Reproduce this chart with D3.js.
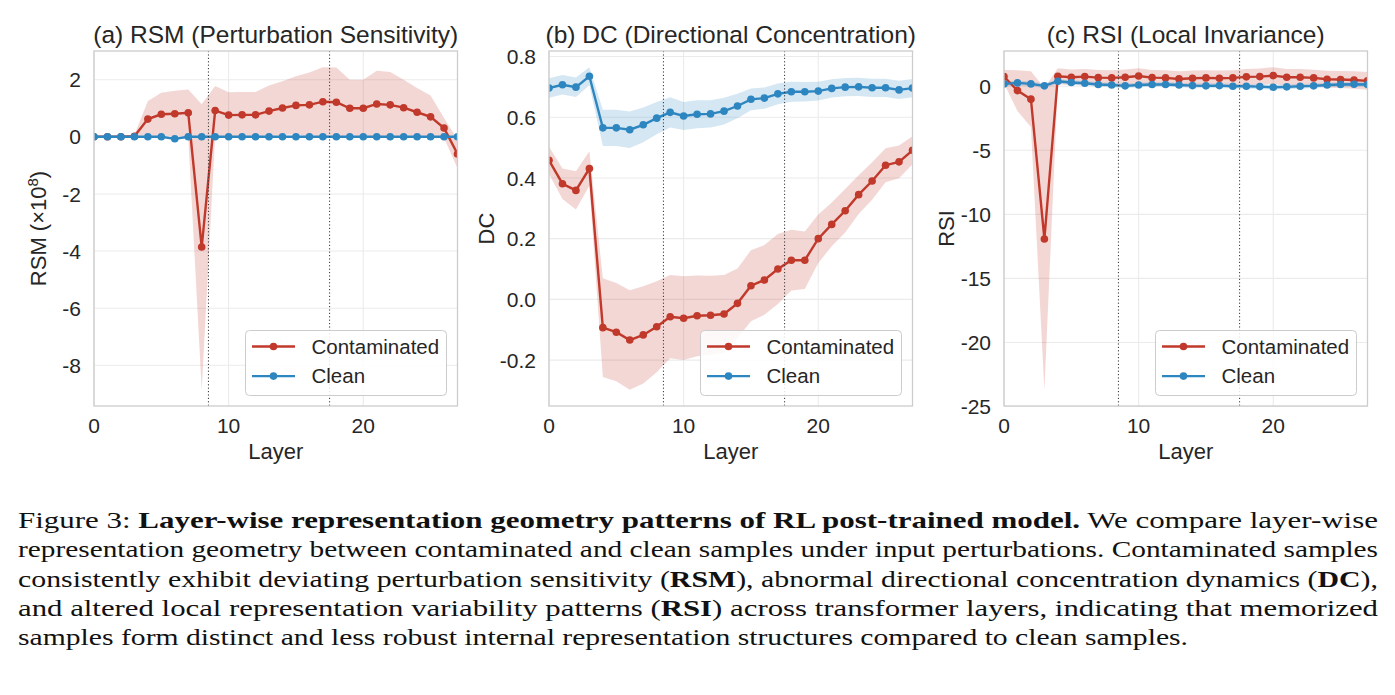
<!DOCTYPE html>
<html><head><meta charset="utf-8">
<script src="https://cdn.jsdelivr.net/npm/d3@7"></script>
<style>
body{margin:0;background:#fff;}
svg{position:absolute;left:0;top:0;}
</style></head><body>
<svg id="chart" width="1395" height="695"></svg>
<script>
const layers = [0,1,2,3,4,5,6,7,8,9,10,11,12,13,14,15,16,17,18,19,20,21,22,23,24,25,26,27];
const xTicks = [0,10,20];
const phaseBounds = [8.5,17.5];
const seriesNames = ["Contaminated","Clean"];

// (a) RSM
const rsmContMean = [0,0,0,0.02,0.62,0.79,0.81,0.84,-3.86,0.92,0.76,0.77,0.77,0.9,1.01,1.1,1.12,1.23,1.21,1.0,1.0,1.15,1.12,1.02,0.86,0.7,0.31,-0.6];
const rsmContStd  = [0.03,0.03,0.03,0.04,0.63,0.75,0.8,0.82,5.0,0.86,0.8,0.8,0.8,0.9,0.94,1.02,1.13,1.21,1.22,1.0,1.0,1.16,1.15,0.98,0.85,0.75,0.35,0.5];
const rsmCleanMean = [0,0,0,0,0,0,-0.07,0,0,0,0,0,0,0,0,0,0,0,0,0,0,0,0,0,0,0,0,0];
const rsmCleanStd  = [0.03,0.03,0.03,0.03,0.03,0.03,0.03,0.03,0.03,0.03,0.03,0.03,0.03,0.03,0.03,0.03,0.03,0.03,0.03,0.03,0.03,0.03,0.03,0.03,0.03,0.03,0.03,0.03];
const rsmTicks = [-8,-6,-4,-2,0,2];

// (b) DC
const dcContMean = [0.458,0.381,0.359,0.431,-0.093,-0.108,-0.134,-0.117,-0.09,-0.057,-0.062,-0.054,-0.052,-0.048,-0.013,0.045,0.064,0.1,0.129,0.129,0.2,0.247,0.292,0.345,0.39,0.442,0.453,0.491];
const dcContStd  = [0.045,0.05,0.063,0.057,0.163,0.162,0.164,0.16,0.15,0.137,0.138,0.133,0.13,0.128,0.115,0.117,0.115,0.115,0.1,0.095,0.08,0.072,0.072,0.064,0.062,0.056,0.054,0.046];
const dcCleanMean = [0.696,0.707,0.699,0.735,0.565,0.565,0.559,0.575,0.597,0.616,0.604,0.61,0.611,0.62,0.637,0.659,0.663,0.677,0.684,0.684,0.686,0.695,0.699,0.7,0.697,0.697,0.69,0.696];
const dcCleanStd  = [0.032,0.032,0.032,0.03,0.06,0.06,0.06,0.057,0.053,0.05,0.046,0.046,0.045,0.044,0.04,0.036,0.035,0.034,0.033,0.032,0.031,0.03,0.03,0.03,0.03,0.03,0.03,0.03];
const dcTicks = [-0.2,0.0,0.2,0.4,0.6,0.8];

// (c) RSI
const rsiContMean = [0.75,-0.34,-1.01,-11.92,0.78,0.7,0.75,0.67,0.65,0.7,0.8,0.67,0.65,0.57,0.62,0.65,0.62,0.65,0.73,0.75,0.83,0.7,0.7,0.65,0.55,0.52,0.49,0.42];
const rsiContStd  = [0.52,1.59,2.18,11.78,0.62,0.6,0.6,0.6,0.6,0.6,0.6,0.6,0.6,0.6,0.6,0.6,0.6,0.6,0.62,0.64,0.66,0.64,0.64,0.64,0.66,0.66,0.68,0.7];
const rsiCleanMean = [0.18,0.26,0.18,0.03,0.39,0.29,0.23,0.13,0.1,0.03,0.1,0.13,0.13,0.1,0.05,0.03,0.05,0,0,-0.03,-0.08,-0.05,0,0.03,0.1,0.13,0.16,0.13];
const rsiCleanStd  = [0.18,0.18,0.18,0.18,0.18,0.18,0.18,0.18,0.18,0.18,0.18,0.18,0.18,0.18,0.18,0.18,0.18,0.18,0.18,0.18,0.18,0.18,0.18,0.18,0.18,0.18,0.18,0.18];
const rsiTicks = [-25,-20,-15,-10,-5,0];

// caption lines: [text, bold] segments per line; last flag = justified
const captionLines = [
  [[["Figure 3: ",false],["Layer-wise representation geometry patterns of RL post-trained model.",true],[" We compare layer-wise",false]], true],
  [[["representation geometry between contaminated and clean samples under input perturbations. Contaminated samples",false]], true],
  [[["consistently exhibit deviating perturbation sensitivity (",false],["RSM",true],["), abnormal directional concentration dynamics (",false],["DC",true],["),",false]], true],
  [[["and altered local representation variability patterns (",false],["RSI",true],[") across transformer layers, indicating that memorized",false]], true],
  [[["samples form distinct and less robust internal representation structures compared to clean samples.",false]], false]
];

const panels = [
  {title:"(a) RSM (Perturbation Sensitivity)", ylab:"RSM", left:94, ylabOff:48, ticks:rsmTicks, fmt:d=>String(d),
   series:[[rsmContMean,rsmContStd],[rsmCleanMean,rsmCleanStd]]},
  {title:"(b) DC (Directional Concentration)", ylab:"DC", left:549, ylabOff:55, ticks:dcTicks, fmt:d=>d.toFixed(1),
   series:[[dcContMean,dcContStd],[dcCleanMean,dcCleanStd]]},
  {title:"(c) RSI (Local Invariance)", ylab:"RSI", left:1004, ylabOff:50, ticks:rsiTicks, fmt:d=>String(d),
   series:[[rsiContMean,rsiContStd],[rsiCleanMean,rsiCleanStd]]}
];

const colors = ["#c0392b","#2e86c1"];
const W = 363.5, TOP = 51, H = 355;
const FONT = "'Liberation Sans', Arial, sans-serif";
const SERIF = "'Liberation Serif', 'Times New Roman', serif";
const TXT = "#262626";
const svg = d3.select("#chart");

panels.forEach((p, pi) => {
  const g = svg.append("g");
  const x = d3.scaleLinear().domain([0,27]).range([p.left, p.left+W]);
  let lo = Infinity, hi = -Infinity;
  p.series.forEach(([m,s]) => m.forEach((v,i) => { lo = Math.min(lo, v - s[i]); hi = Math.max(hi, v + s[i]); }));
  const pad = (hi - lo) * 0.05;
  const y = d3.scaleLinear().domain([lo - pad, hi + pad]).range([TOP+H, TOP]);

  g.append("rect").attr("x",p.left).attr("y",TOP).attr("width",W).attr("height",H).attr("fill","#fff");
  g.selectAll(".gy").data(p.ticks).enter().append("line")
    .attr("x1",p.left).attr("x2",p.left+W).attr("y1",d=>y(d)).attr("y2",d=>y(d))
    .attr("stroke","#ebebeb").attr("stroke-width",1.1);
  g.selectAll(".gx").data(xTicks).enter().append("line")
    .attr("x1",d=>x(d)).attr("x2",d=>x(d)).attr("y1",TOP).attr("y2",TOP+H)
    .attr("stroke","#ebebeb").attr("stroke-width",1.1);

  const clipId = "clip"+pi;
  svg.append("clipPath").attr("id",clipId).append("rect").attr("x",p.left).attr("y",TOP).attr("width",W).attr("height",H);
  const dg = g.append("g").attr("clip-path",`url(#${clipId})`);

  p.series.forEach(([m,s], si) => {
    const area = d3.area().x((d,i)=>x(layers[i])).y0((d,i)=>y(m[i]-s[i])).y1((d,i)=>y(m[i]+s[i]));
    dg.append("path").datum(m).attr("d",area).attr("fill",colors[si]).attr("fill-opacity",0.2).attr("stroke","none");
  });
  p.series.forEach(([m,s], si) => {
    const line = d3.line().x((d,i)=>x(layers[i])).y(d=>y(d));
    dg.append("path").datum(m).attr("d",line).attr("fill","none").attr("stroke",colors[si]).attr("stroke-width",2.4);
    dg.selectAll(".pt"+si).data(m).enter().append("circle")
      .attr("cx",(d,i)=>x(layers[i])).attr("cy",d=>y(d)).attr("r",3.8).attr("fill",colors[si]);
  });
  g.selectAll(".vl").data(phaseBounds).enter().append("line")
    .attr("x1",d=>x(d)).attr("x2",d=>x(d)).attr("y1",TOP).attr("y2",TOP+H)
    .attr("stroke","#333").attr("stroke-width",1).attr("stroke-dasharray","1.2,2.2");
  g.append("rect").attr("x",p.left).attr("y",TOP).attr("width",W).attr("height",H)
    .attr("fill","none").attr("stroke","#cccccc").attr("stroke-width",1.3);

  g.selectAll(".xt").data(xTicks).enter().append("text")
    .attr("x",d=>x(d)).attr("y",TOP+H+27).attr("text-anchor","middle")
    .style("font-family",FONT).style("font-size","21px").attr("fill",TXT).text(d=>d);
  g.selectAll(".yt").data(p.ticks).enter().append("text")
    .attr("x",p.left-13).attr("y",d=>y(d)).attr("dy","0.36em").attr("text-anchor","end")
    .style("font-family",FONT).style("font-size","21px").attr("fill",TXT).text(p.fmt);
  g.append("text").attr("x",p.left+W/2).attr("y",TOP-8.5).attr("text-anchor","middle")
    .style("font-family",FONT).style("font-size","24.5px").attr("fill",TXT).text(p.title);
  g.append("text").attr("x",p.left+W/2).attr("y",TOP+H+53).attr("text-anchor","middle")
    .style("font-family",FONT).style("font-size","22px").attr("fill",TXT).text("Layer");
  const yl = g.append("text").attr("transform",`translate(${p.left-p.ylabOff},${TOP+H/2}) rotate(-90)`)
    .attr("text-anchor","middle").style("font-family",FONT).style("font-size","22px").attr("fill",TXT);
  yl.append("tspan").text(p.ylab);
  if (pi === 0) {
    yl.append("tspan").text(" (×10");
    yl.append("tspan").attr("dy","-0.55em").style("font-size","15px").text("8");
    yl.append("tspan").attr("dy","0.38em").text(")");
  }

  const lx = p.left+W-11-201, ly = TOP+H-10.5-65;
  const lg = g.append("g");
  lg.append("rect").attr("x",lx).attr("y",ly).attr("width",201).attr("height",65).attr("rx",4)
    .attr("fill","#fff").attr("fill-opacity",0.85).attr("stroke","#cccccc").attr("stroke-width",1);
  seriesNames.forEach((nm, si) => {
    const yy = ly + 16 + si*29.6;
    lg.append("line").attr("x1",lx+6.5).attr("x2",lx+49.5).attr("y1",yy).attr("y2",yy)
      .attr("stroke",colors[si]).attr("stroke-width",2.4);
    lg.append("circle").attr("cx",lx+28).attr("cy",yy).attr("r",3.8).attr("fill",colors[si]);
    lg.append("text").attr("x",lx+66).attr("y",yy).attr("dy","0.36em")
      .style("font-family",FONT).style("font-size","20.5px").attr("fill",TXT).text(nm);
  });
});

// caption
const cap = svg.append("g");
captionLines.forEach(([segs, just], li) => {
  const t = cap.append("text").attr("x",18).attr("y",528 + li*29.3)
    .style("font-family",SERIF).style("font-size","24px").attr("fill","#111")
    .attr("textLength", just ? 1360 : 1170).attr("lengthAdjust","spacingAndGlyphs");
  segs.forEach(([s,b]) => t.append("tspan").style("font-weight", b ? "bold" : "normal").text(s));
});
</script>
</body></html>
